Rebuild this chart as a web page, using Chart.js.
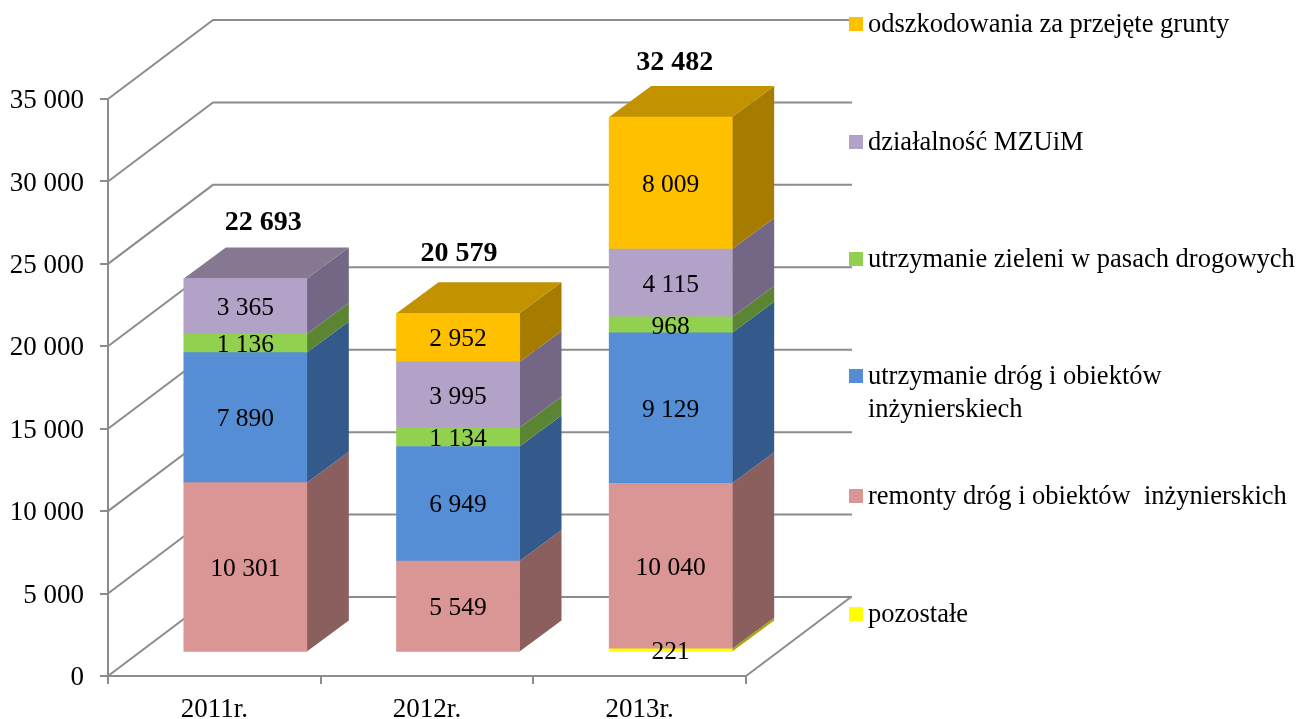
<!DOCTYPE html>
<html>
<head>
<meta charset="utf-8">
<style>
    html, body { margin: 0; padding: 0; background: #fff; }
    canvas { display: block; }
</style>
<script src="https://cdn.jsdelivr.net/npm/chart.js@4"></script>
</head>
<body>
<canvas id="costChart" width="1299" height="719"></canvas>
<script>
// Chart data
const categories = ['2011r.', '2012r.', '2013r.'];
const pozostale = [null, null, 221];
const remonty = [10301, 5549, 10040];
const utrzymanieDrog = [7890, 6949, 9129];
const zielen = [1136, 1134, 968];
const mzuim = [3365, 3995, 4115];
const odszkodowania = [null, 2952, 8009];
const totals = [22693, 20579, 32482];
const yTicks = [0, 5000, 10000, 15000, 20000, 25000, 30000, 35000];

const seriesLabels = [
    'pozostałe',
    'remonty dróg i obiektów  inżynierskich',
    'utrzymanie dróg i obiektów',
    'utrzymanie zieleni w pasach drogowych',
    'działalność MZUiM',
    'odszkodowania za przejęte grunty'
];
const seriesValues = [pozostale, remonty, utrzymanieDrog, zielen, mzuim, odszkodowania];
const frontColors = ['#FFFF00', '#D99694', '#558ED5', '#92D050', '#B3A2C7', '#FFC000'];
const sideColors = ['#A8A800', '#8B5F5E', '#335A8A', '#5C8533', '#746785', '#A67C00'];
const topColors = ['#C4C400', '#A07270', '#3F6CA5', '#6E9E3D', '#877892', '#C39200'];

const FONT = '"Liberation Serif", "Times New Roman", serif';
const GRID = '#8c8c8c';

// 3D geometry, in pixels
const wall = { dx: 105, dy: -79, right: 852 };
const bar = { dx: 31, dy: -23.5, depthX: 42, depthY: -31 };

const fmt = v => String(v).replace(/\B(?=(\d{3})+$)/g, ' ');

// Back wall and floor, drawn behind the bars
const wallsPlugin = {
    id: 'walls',
    beforeDatasetsDraw(chart) {
        const ctx = chart.ctx;
        const y = chart.scales.y;
        const x0 = chart.chartArea.left;
        ctx.save();
        ctx.strokeStyle = GRID;
        ctx.lineWidth = 2;
        yTicks.forEach(t => {
            const py = y.getPixelForValue(t);
            ctx.beginPath();
            ctx.moveTo(x0, py);
            ctx.lineTo(x0 + wall.dx, py + wall.dy);
            ctx.lineTo(wall.right, py + wall.dy);
            ctx.stroke();
        });
        // floor right edge
        const py0 = y.getPixelForValue(0);
        const x1 = chart.chartArea.right;
        ctx.beginPath();
        ctx.moveTo(x1, py0);
        ctx.lineTo(x1 + wall.dx, py0 + wall.dy);
        ctx.stroke();
        ctx.restore();
    }
};

// Moves the bars onto the floor and adds side and top faces
const barsPlugin = {
    id: 'bars3d',
    beforeDatasetsDraw(chart) {
        const ctx = chart.ctx;
        ctx.save();
        ctx.translate(bar.dx, bar.dy);
        seriesValues.forEach((values, i) => {
            chart.getDatasetMeta(i).data.forEach((el, j) => {
                if (!values[j]) return;
                const r = el.x + el.width / 2;
                const l = el.x - el.width / 2;
                ctx.fillStyle = sideColors[i];
                ctx.beginPath();
                ctx.moveTo(r, el.y);
                ctx.lineTo(r + bar.depthX, el.y + bar.depthY);
                ctx.lineTo(r + bar.depthX, el.base + bar.depthY);
                ctx.lineTo(r, el.base);
                ctx.closePath();
                ctx.fill();
                // only the highest segment shows its top
                const isTop = !seriesValues.slice(i + 1).some(s => s[j]);
                if (isTop) {
                    ctx.fillStyle = topColors[i];
                    ctx.beginPath();
                    ctx.moveTo(l, el.y);
                    ctx.lineTo(l + bar.depthX, el.y + bar.depthY);
                    ctx.lineTo(r + bar.depthX, el.y + bar.depthY);
                    ctx.lineTo(r, el.y);
                    ctx.closePath();
                    ctx.fill();
                }
            });
        });
    },
    afterDatasetsDraw(chart) {
        chart.ctx.restore();
    }
};

// y tick labels sit a little lower than their ticks in the original
const tickShiftPlugin = {
    id: 'tickShift',
    afterLayout(chart) {
        const y = chart.scales.y;
        const drawLabels = y.drawLabels;
        y.drawLabels = function(area) {
            chart.ctx.save();
            chart.ctx.translate(0, 2);
            drawLabels.call(y, area);
            chart.ctx.restore();
        };
    }
};

const labelsPlugin = {
    id: 'labels',
    afterDraw(chart) {
        const ctx = chart.ctx;
        ctx.save();
        ctx.fillStyle = '#000';
        ctx.textAlign = 'center';
        ctx.textBaseline = 'middle';

        // Segment values
        ctx.font = '25.5px ' + FONT;
        seriesValues.forEach((values, i) => {
            chart.getDatasetMeta(i).data.forEach((el, j) => {
                if (!values[j]) return;
                ctx.fillText(fmt(values[j]), el.x + bar.dx, (el.y + el.base) / 2 + bar.dy + 2);
            });
        });

        // Totals above the bars
        const totalShift = [[18, -56], [1, -59], [4, -54]];
        ctx.font = 'bold 28px ' + FONT;
        totals.forEach((t, j) => {
            const cx = chart.scales.x.getPixelForValue(j);
            const top = chart.scales.y.getPixelForValue(t) + bar.dy;
            ctx.fillText(fmt(t), cx + bar.dx + totalShift[j][0], top + totalShift[j][1]);
        });

        // Legend, top entry first
        const legendY = [614, 496, 376, 259, 142, 24];
        ctx.textAlign = 'left';
        ctx.font = '26.5px ' + FONT;
        seriesLabels.forEach((label, i) => {
            ctx.fillStyle = frontColors[i];
            ctx.fillRect(849, legendY[i] - 7, 14, 14);
            ctx.fillStyle = '#000';
            ctx.fillText(label, 868, legendY[i] + 1);
        });
        ctx.fillText('inżynierskiech', 868, 410);
        ctx.restore();
    }
};

new Chart(document.getElementById('costChart'), {
    type: 'bar',
    data: {
        labels: categories,
        datasets: seriesValues.map((values, i) => ({
            label: seriesLabels[i],
            data: values,
            backgroundColor: frontColors[i],
            borderWidth: 0,
            barThickness: 123
        }))
    },
    plugins: [tickShiftPlugin, wallsPlugin, barsPlugin, labelsPlugin],
    options: {
        responsive: false,
        animation: false,
        layout: { padding: { left: 0, right: 553, top: 99, bottom: 0 } },
        plugins: {
            legend: { display: false },
            tooltip: { enabled: false },
            title: { display: false }
        },
        scales: {
            x: {
                stacked: true,
                afterFit(scale) { scale.height = 43; },
                border: { color: GRID, width: 2 },
                grid: { drawOnChartArea: false, drawTicks: true, tickLength: 8, color: GRID, lineWidth: 2 },
                ticks: { color: '#000', padding: 10, maxRotation: 0, font: { family: FONT, size: 27 } }
            },
            y: {
                stacked: true,
                min: 0,
                max: 35000,
                afterFit(scale) { scale.width = 108; },
                afterBuildTicks(scale) { scale.ticks = yTicks.map(v => ({ value: v })); },
                border: { color: GRID, width: 2 },
                grid: { drawOnChartArea: false, drawTicks: true, tickLength: 8, color: GRID, lineWidth: 2 },
                ticks: {
                    color: '#000',
                    padding: 16,
                    font: { family: FONT, size: 27 },
                    callback: v => fmt(v)
                }
            }
        }
    }
});
</script>
</body>
</html>
